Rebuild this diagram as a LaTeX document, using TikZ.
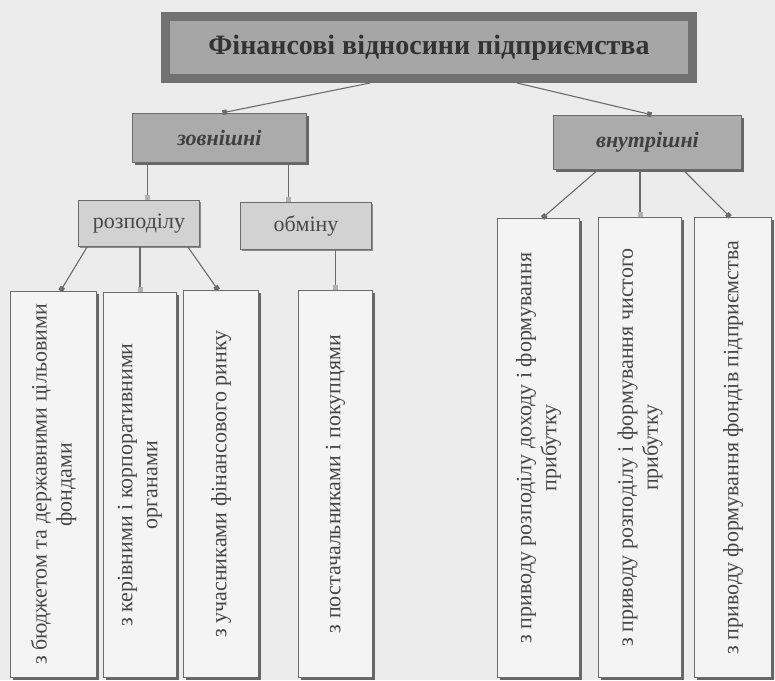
\documentclass[tikz,border=0pt]{standalone}
\usepackage{fontspec}
\setmainfont{Liberation Serif}
\usetikzlibrary{arrows.meta, positioning, shadows}
\definecolor{paper}{HTML}{ECECEC}
\definecolor{ink}{HTML}{474747}
\definecolor{rulegray}{HTML}{6B6B6B}
\definecolor{framegray}{HTML}{717171}
\definecolor{titlefill}{HTML}{A6A6A6}
\definecolor{kindfill}{HTML}{ABABAB}
\definecolor{subfill}{HTML}{D2D2D2}
\definecolor{cellfill}{HTML}{F4F4F4}

\begin{document}
\begin{tikzpicture}[
  x=1pt, y=-1pt,
  font=\fontsize{22}{25}\selectfont,
  text=ink,
  titlebox/.style={draw=framegray, line width=9pt, fill=titlefill, minimum width=527pt, minimum height=62pt, font=\fontsize{28}{32}\selectfont\bfseries, text=black!80},
  kind/.style={draw=rulegray, line width=1.5pt, fill=kindfill, font=\fontsize{22}{25}\selectfont\bfseries\itshape, text=black!75, drop shadow={shadow xshift=2pt, shadow yshift=-2pt, fill=black!60, opacity=1}},
  subkind/.style={draw=rulegray, line width=1.2pt, fill=subfill, drop shadow={shadow xshift=1.5pt, shadow yshift=-1.5pt, fill=black!45, opacity=1}},
  cell/.style={draw=rulegray, line width=1.2pt, fill=cellfill, rotate=90, align=center, inner sep=2pt, drop shadow={shadow xshift=2pt, shadow yshift=-2pt, fill=black!60, opacity=1}},
  arrow/.style={draw=rulegray, line width=1.1pt, -{Square[length=4.5pt, width=5pt]}},
  faintarrow/.style={draw=rulegray, line width=1.1pt, -{Square[length=4.5pt, width=5pt, color=black!30]}}
]
\fill[paper] (0,0) rectangle (775,680);
\useasboundingbox (0,0) rectangle (775,680);

\node[titlebox] (title) at (429,47.5) {Фінансові відносини підприємства};
\node[kind, minimum width=174pt, minimum height=49pt] (outer) at (219.5,138) {зовнішні};
\node[kind, minimum width=188pt, minimum height=54pt] (inner) at (647.5,142.5) {внутрішні};
\node[subkind, minimum width=121pt, minimum height=46pt] (distrib) at (139,223.5) {розподілу};
\node[subkind, minimum width=131pt, minimum height=47pt] (exch) at (306,226) {обміну};

\node[cell, minimum width=386pt, minimum height=86pt] (budget) at (53.5,484.5) {з бюджетом та державними цільовими\\фондами};
\node[cell, minimum width=385pt, minimum height=73pt] (corp) at (140,485) {з керівними і корпоративними\\органами};
\node[cell, minimum width=387pt, minimum height=75pt] (market) at (221,484) {з учасниками фінансового ринку};
\node[cell, minimum width=387pt, minimum height=74pt] (supply) at (335.5,484) {з постачальниками і покупцями};
\node[cell, minimum width=459pt, minimum height=82pt] (income) at (538.5,448) {з приводу розподілу доходу і формування\\прибутку};
\node[cell, minimum width=460pt, minimum height=83pt] (netprofit) at (640,447.5) {з приводу розподілу і формування чистого\\прибутку};
\node[cell, minimum width=460pt, minimum height=77pt] (funds) at (733,447.5) {з приводу формування фондів підприємства};

\coordinate (outerleft) at ([xshift=-72pt]outer.south);
\coordinate (outerright) at ([xshift=69pt]outer.south);

\draw[arrow] ([xshift=-59pt]title.south) -- ([xshift=3pt]outer.north);
\draw[arrow] ([xshift=88pt]title.south) -- ([xshift=4pt]inner.north);
\draw[faintarrow] (outerleft) -- (outerleft |- distrib.north);
\draw[faintarrow] (outerright) -- (outerright |- exch.north);
\draw[arrow] ([xshift=-52pt]distrib.south) -- ([xshift=7pt]budget.east);
\draw[faintarrow] (corp.east |- distrib.south) -- (corp.east);
\draw[arrow] ([xshift=49pt]distrib.south) -- ([xshift=-3pt]market.east);
\draw[faintarrow] (supply.east |- exch.south) -- (supply.east);
\draw[arrow] ([xshift=-50pt]inner.south) -- ([xshift=4pt]income.east);
\draw[faintarrow] (netprofit.east |- inner.south) -- (netprofit.east);
\draw[arrow] ([xshift=36pt]inner.south) -- ([xshift=-3pt]funds.east);
\end{tikzpicture}
\end{document}
